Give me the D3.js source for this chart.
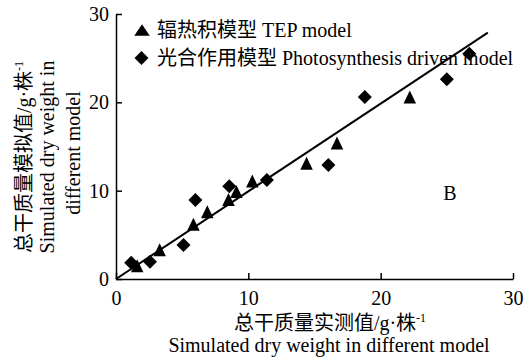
<!DOCTYPE html>
<html><head><meta charset="utf-8">
<script src="https://cdn.jsdelivr.net/npm/d3@7"></script>
<style>
html,body{margin:0;padding:0;background:#fff;}
svg text{font-family:"Liberation Serif","Times New Roman","Noto Sans CJK SC",serif;fill:#000;}
</style></head>
<body><svg id="c" width="529" height="361"></svg>
<script>
// TEP model (triangles): [measured, simulated]
const tepMeasured  = [1.6, 3.3, 5.85, 6.9, 8.5, 9.1, 10.3, 14.4, 16.7, 22.2];
const tepSimulated = [1.5, 3.3, 6.2, 7.6, 9.0, 9.9, 11.1, 13.1, 15.4, 20.6];
// Photosynthesis driven model (diamonds)
const phoMeasured  = [1.15, 2.57, 5.1, 6.0, 8.56, 11.4, 16.05, 18.8, 25.0, 26.7];
const phoSimulated = [1.85, 1.96, 3.85, 8.95, 10.5, 11.2, 12.9, 20.6, 22.6, 25.5];
const fitLine = [[0, 0], [28.1, 27.9]];
const xTicks = [0, 10, 20, 30];
const yTicks = [0, 10, 20, 30];
const legendLabels = ["辐热积模型 TEP model", "光合作用模型 Photosynthesis driven model"];

const FS = 20;
const svg = d3.select("#c");
const x = d3.scaleLinear().domain([0, 30]).range([116, 513]);
const y = d3.scaleLinear().domain([0, 30]).range([279, 14]);

// axes
const xAxis = d3.axisBottom(x).tickValues(xTicks).tickSizeInner(-6).tickSizeOuter(0).tickPadding(12);
const yAxis = d3.axisLeft(y).tickValues(yTicks).tickSizeInner(-6).tickSizeOuter(0).tickPadding(7);
const gx = svg.append("g").attr("transform", "translate(0,279)").call(xAxis);
const gy = svg.append("g").attr("transform", "translate(116,0)").call(yAxis);
[gx, gy].forEach(g => {
  g.select(".domain").attr("stroke", "#000").attr("stroke-width", 1.5);
  g.selectAll(".tick line").attr("stroke", "#000").attr("stroke-width", 1.5);
  g.selectAll(".tick text").attr("font-size", FS).attr("font-family", "Liberation Serif");
});
gx.selectAll(".tick text").attr("dy", "0.71em");

// fit line
svg.append("line")
  .attr("x1", x(fitLine[0][0])).attr("y1", y(fitLine[0][1]))
  .attr("x2", x(fitLine[1][0])).attr("y2", y(fitLine[1][1]))
  .attr("stroke", "#000").attr("stroke-width", 2);

// custom marker shapes (bbox-centred)
const triType = (w, h) => ({ draw(ctx) { ctx.moveTo(0, -h / 2); ctx.lineTo(w / 2, h / 2); ctx.lineTo(-w / 2, h / 2); ctx.closePath(); } });
const diaType = (w, h) => ({ draw(ctx) { ctx.moveTo(0, -h / 2); ctx.lineTo(w / 2, 0); ctx.lineTo(0, h / 2); ctx.lineTo(-w / 2, 0); ctx.closePath(); } });
const tri = d3.symbol().type(triType(12.5, 13));
const dia = d3.symbol().type(diaType(14, 14));
const triLeg = d3.symbol().type(triType(15.5, 11.5));
const diaLeg = d3.symbol().type(diaType(14, 14));

svg.append("g").selectAll("path").data(phoMeasured.map((m, i) => [m, phoSimulated[i]]))
  .join("path").attr("d", dia)
  .attr("transform", d => `translate(${x(d[0])},${y(d[1])})`)
  .attr("fill", "#000");
svg.append("g").selectAll("path").data(tepMeasured.map((m, i) => [m, tepSimulated[i]]))
  .join("path").attr("d", tri)
  .attr("transform", d => `translate(${x(d[0])},${y(d[1])})`)
  .attr("fill", "#000");

// legend
const lg = svg.append("g");
lg.append("path").attr("d", triLeg).attr("transform", "translate(142,30)").attr("fill", "#000");
lg.append("path").attr("d", diaLeg).attr("transform", "translate(141.5,58)").attr("fill", "#000");
lg.append("text").attr("x", 157).attr("y", 37).attr("font-size", FS).text(legendLabels[0]);
lg.append("text").attr("x", 157).attr("y", 65).attr("font-size", FS).text(legendLabels[1]);

// panel label
svg.append("text").attr("x", 450).attr("y", 200).attr("text-anchor", "middle").attr("font-size", FS).text("B");

// x title
const xt = svg.append("text").attr("x", 330).attr("y", 330).attr("text-anchor", "middle").attr("font-size", FS);
xt.append("tspan").text("总干质量实测值/g·株");
xt.append("tspan").attr("dy", -8).attr("font-size", 12).text("-1");
svg.append("text").attr("x", 329).attr("y", 352).attr("text-anchor", "middle").attr("font-size", FS)
  .text("Simulated dry weight in different model");

// y title
const yt = svg.append("g").attr("transform", "translate(0,157) rotate(-90)");
const y1 = yt.append("text").attr("x", 0).attr("y", 31).attr("text-anchor", "middle").attr("font-size", FS);
y1.append("tspan").text("总干质量模拟值/g·株");
y1.append("tspan").attr("dy", -8).attr("font-size", 12).text("-1");
yt.append("text").attr("x", 0).attr("y", 54).attr("text-anchor", "middle").attr("font-size", FS).text("Simulated dry weight in");
yt.append("text").attr("x", 4).attr("y", 80).attr("text-anchor", "middle").attr("font-size", FS).text("different model");
</script></body></html>
